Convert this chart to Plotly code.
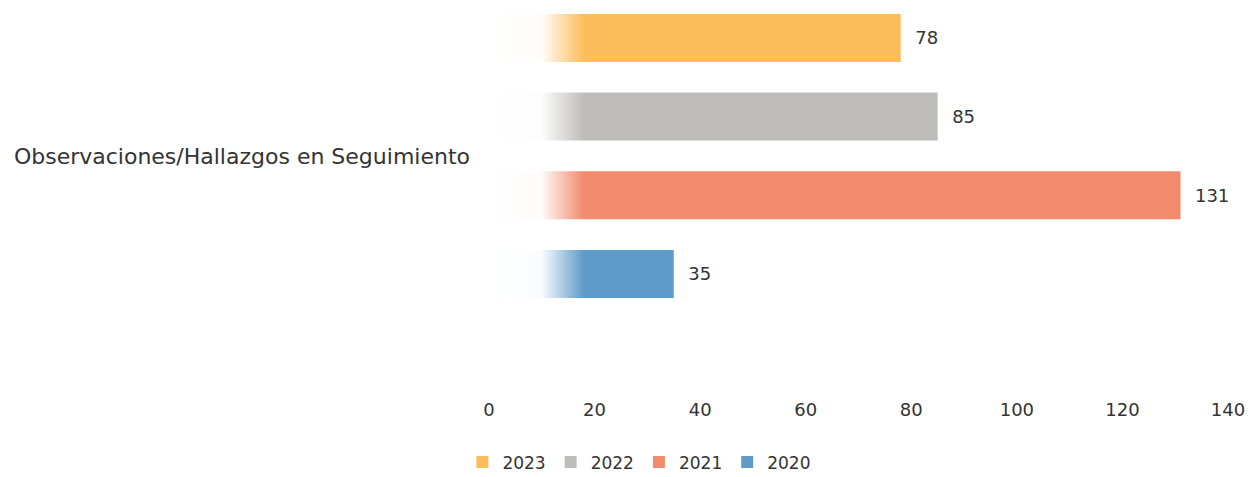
import plotly.graph_objects as go

categoria = ["Observaciones/Hallazgos en Seguimiento"]
anios = ["2020", "2021", "2022", "2023"]
valores = [35, 131, 85, 78]
colores = ["#5e9bc9", "#f28b6d", "#bebdba", "#fdbd5b"]

fuente = "DejaVu Sans"

fig = go.Figure()

for anio, val, col in zip(anios, valores, colores):
    fig.add_trace(go.Bar(
        y=categoria, x=[val], name=anio, orientation="h",
        marker=dict(color=col, line_width=0),
        text=[val], texttemplate="  %{x}", textposition="outside",
        textfont=dict(size=18, color="#333333", family=fuente),
        cliponaxis=False,
    ))

# fade on the left end of the bars (white -> transparent)
fig.add_trace(go.Scatter(
    x=[0, 18, 18, 0, 0], y=[0, 0, 1, 1, 0],
    xaxis="x2", yaxis="y2", mode="lines", line_width=0,
    fill="toself",
    fillgradient=dict(type="horizontal", colorscale=[
        [0, "rgba(255,255,255,1)"], [0.55, "rgba(255,255,255,0.97)"],
        [1, "rgba(255,255,255,0)"]]),
    showlegend=False, hoverinfo="skip",
))

fig.update_layout(
    width=1259, height=477,
    paper_bgcolor="white", plot_bgcolor="white",
    margin=dict(l=481, r=39, t=0, b=88, autoexpand=False),
    barmode="group", bargap=0.2, bargroupgap=0.39,
    font=dict(family=fuente, color="#333333", size=17),
    xaxis=dict(range=[0, 140], dtick=20, showgrid=False, zeroline=False,
               showline=False, automargin=False, tickfont=dict(size=18)),
    yaxis=dict(range=[-0.613, 0.376], showgrid=False, showline=False,
               automargin=False, ticks="", ticklabelstandoff=18,
               tickfont=dict(size=22)),
    xaxis2=dict(range=[0, 140], overlaying="x", visible=False),
    yaxis2=dict(range=[0, 1], overlaying="y", visible=False),
    legend=dict(orientation="h", traceorder="reversed", x=-0.036, xanchor="left",
                y=-0.122, yanchor="top", font=dict(size=17),
                itemwidth=30, tracegroupgap=0),
    showlegend=True,
)

fig.write_html("out.html")
